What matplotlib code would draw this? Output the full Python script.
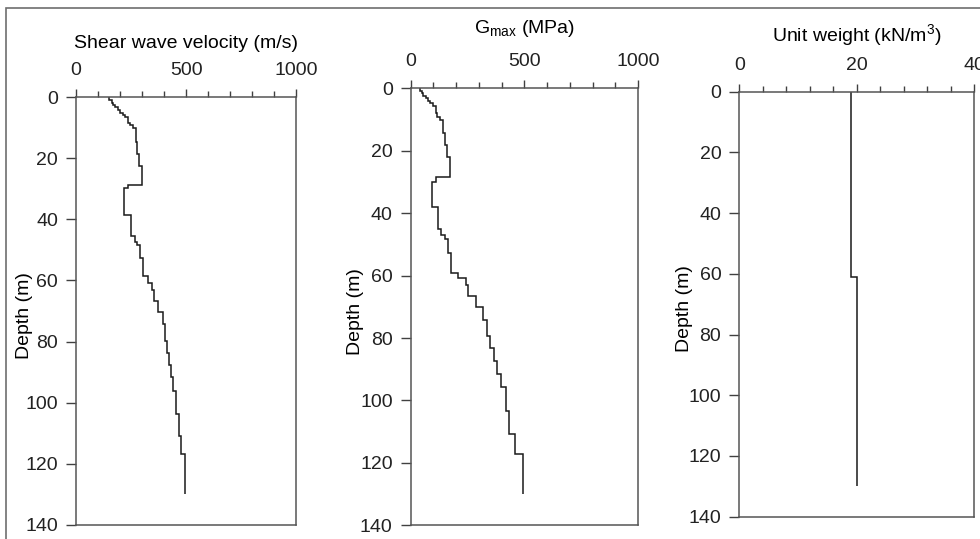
import matplotlib
matplotlib.use("Agg")
import matplotlib.pyplot as plt
from matplotlib.patches import Rectangle

# derinlik katmanlari (m) ve degerler
vs_depth = [0, 1.0, 1.85, 2.6, 3.4, 4.25, 5.1, 5.9, 6.65, 8.4, 9.15, 10.2, 14.6, 18.6, 22.5,
            28.8, 29.8, 38.6, 45.6, 47.3, 48.4, 52.7, 58.7, 60.9, 63.1, 66.6, 70.2, 74.3,
            79.7, 83.8, 87.8, 91.7, 96.1, 103.7, 110.8, 116.8, 130]
vs = [148, 162, 170, 177, 192, 200, 215, 223, 238, 245, 258, 273, 279, 288, 298, 238, 220,
      248, 268, 279, 291, 303, 329, 344, 356, 371, 394, 406, 415, 423, 432, 442, 455, 468,
      476, 495]

g_depth = [0, 0.8, 1.6, 2.5, 3.2, 4.0, 4.8, 5.7, 8.0, 9.1, 10.2, 14.2, 18.2, 22.1, 28.3,
           29.9, 38.1, 45.2, 47.0, 48.4, 52.7, 59.1, 60.9, 63.0, 66.4, 70.0, 74.2, 79.4,
           83.3, 87.3, 91.5, 95.8, 103.3, 110.8, 117, 130]
gmax = [41, 48, 56, 67, 78, 85, 97, 110, 116, 128, 144, 151, 161, 173, 112, 92, 119, 134,
        151, 166, 177, 210, 243, 254, 287, 317, 334, 349, 366, 381, 397, 419, 434, 459, 495]

uw_depth = [0, 61, 130]
unit_weight = [19, 20]

depth_ticks = [0, 20, 40, 60, 80, 100, 120, 140]

plt.rcParams["font.family"] = ["Liberation Sans", "DejaVu Sans"]
plt.rcParams["font.size"] = 14
plt.rcParams["text.color"] = "#222222"

fig = plt.figure(figsize=(9.8, 5.39), dpi=100)

# her panel: [sol, alt, genislik, yukseklik], baslik, x siniri, ana/ara tik, etiket konumu
paneller = [
    ([0.0776, 0.026, 0.2245, 0.794], "Shear wave velocity (m/s)", 1000, 500, 100,
     vs_depth, vs, 1.124, 24),
    ([0.4191, 0.0254, 0.2319, 0.8106], r"G$_{\mathregular{max}}$ (MPa)", 1000, 500, 100,
     g_depth, gmax, 1.138, 355),
    ([0.7544, 0.0414, 0.2395, 0.7886], "Unit weight (kN/m$^{\mathregular{3}}$)", 40, 20, 4,
     uw_depth, unit_weight, 1.132, 684),
]

for rect, baslik, xmax, ana, ara, derinlik, deger, ly, ylx in paneller:
    ax = fig.add_axes(rect)
    ax.stairs(deger, derinlik, orientation="horizontal", baseline=None,
              color="#1a1a1a", linewidth=1.1)
    ax.set_xlim(0, xmax)
    ax.set_ylim(140, 0)
    ax.set_yticks(depth_ticks)
    ax.set_xticks(range(0, xmax + 1, ana))
    ax.set_xticks(range(0, xmax + 1, ara), minor=True)
    ax.xaxis.tick_top()
    ax.tick_params(axis="x", which="major", direction="out", length=6, width=1,
                   color="#404040", pad=7, labelcolor="#222222")
    ax.tick_params(axis="x", which="minor", direction="out", length=4, width=1,
                   color="#404040")
    ax.tick_params(axis="y", direction="out", length=7, width=1, color="#404040",
                   pad=6, labelcolor="#222222")
    for s in ax.spines.values():
        s.set_color("#555555")
        s.set_linewidth(1.1)
    ax.set_xlabel(baslik)
    ax.xaxis.set_label_position("top")
    ax.xaxis.set_label_coords(0.5, ly)
    ax.xaxis.label.set_va("center")
    ax.set_ylabel("Depth (m)")
    bbox = ax.get_position()
    ax.yaxis.set_label_coords((ylx / 980 - bbox.x0) / bbox.width, 0.49)
    ax.yaxis.label.set_va("center")

# dis cerceve
fig.patches.append(Rectangle((6 / 980, -0.1), 1.2, 1.1 - 8 / 539, transform=fig.transFigure,
                             fill=False, edgecolor="#6e6e6e", linewidth=1.2))

plt.savefig("out.png", dpi=100)
